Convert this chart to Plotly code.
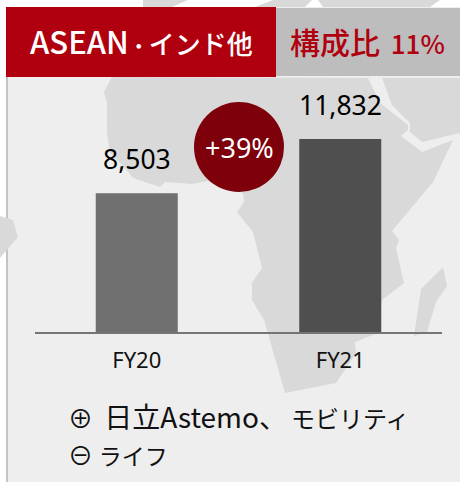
import plotly.graph_objects as go

W, H = 460, 482
L, R, T, B = 35, 442, 100, 332
categories = ["FY20", "FY21"]
values = [8503, 11832]
value_labels = ["8,503", "11,832"]
bar_colors = ["#707070", "#4f4f4f"]
growth = "+39%"
JP = "'Noto Sans CJK JP', 'Noto Sans', sans-serif"
UI = "'Noto Sans', 'Noto Sans CJK JP', sans-serif"
MAP = "#d9d9d9"


def sized(text, size):
    return f'<span style="font-size:{size}px">{text}</span>'


header_left = sized("ASEAN", 31) + sized("・", 20) + sized("インド他", 26)
header_right = sized("構成比", 30) + sized("\u00a0", 22) + sized("\u00a011%", 26)
segment_top = sized("⊕", 25) + sized("\u00a0\u00a0", 25) + sized("日立Astemo、", 28) + sized("\u00a0", 18) + sized("モビリティ", 24)
segment_bottom = sized("⊖", 25) + sized("\u00a0", 25) + sized("ライフ", 23)

africa = [(112,77),(104,92),(107,103),(107,133),(110,153),(127,170),(133,178),(160,187),(165,182),(192,184),(207,181),
          (243,193),(244,202),(237,212),(253,232),(262,268),(252,283),(252,300),(264,320),(285,393),(336,383),(356,353),
          (355,342),(378,333),(382,300),(404,283),(396,248),(399,240),(392,231),(433,182),(453,140),(422,152),(401,136),
          (408,130),(408,125),(380,103),(368,78)]
arabia = [(382,78),(392,105),(410,123),(410,132),(422,142),(460,133),(460,78)]
madagascar = [(443,267),(447,286),(436,302),(427,332),(414,336),(421,289)]
west = [(0,216),(13,220),(18,237),(0,258)]
top_pieces = [
    [(143,0),(188,0),(172,7),(143,7)],
    [(255,7),(273,0),(312,0),(305,7)],
    [(318,0),(440,0),(430,7),(323,7)],
]


def px(x):
    return (x - L) / (R - L)


def py(y):
    return (B - y) / (B - T)


def poly(points, color):
    d = "M" + "L".join(f"{px(x):.4f},{py(y):.4f}" for x, y in points) + "Z"
    return dict(type="path", xref="paper", yref="paper", path=d, fillcolor=color, line_width=0, layer="below")


def rect(x0, y0, x1, y1, color, layer="below"):
    return dict(type="rect", xref="paper", yref="paper", x0=px(x0), x1=px(x1), y0=py(y1), y1=py(y0),
                fillcolor=color, line_width=0, layer=layer)


def label(x, y, text, size, color, anchor="center", font=UI, weight=400):
    return dict(xref="paper", yref="paper", x=px(x), y=py(y), text=text, showarrow=False, xanchor=anchor,
                yanchor="middle", font=dict(size=size, color=color, family=font, weight=weight))


shapes = [
    rect(7, 7, 460, 482, "#eeeeee"),
    rect(6, 77, 8, 482, "#c4c4c4"),
    *[poly(p, MAP) for p in top_pieces],
    poly(africa, MAP),
    poly(arabia, MAP),
    poly(madagascar, MAP),
    poly(west, MAP),
    rect(6, 7, 276, 77, "#b0000f"),
    rect(276, 8, 460, 76, "#bdbdbd"),
    dict(type="circle", xref="paper", yref="paper", x0=px(194), x1=px(284), y0=py(192), y1=py(102),
         fillcolor="#7d000a", line_width=0, layer="above"),
]

annotations = [
    label(141, 41, header_left, 25, "#ffffff", font=JP, weight=500),
    label(367, 41, header_right, 25, "#b0000f", font=JP, weight=500),
    label(239, 147, growth, 27, "#ffffff"),
    label(66, 416, segment_top, 25, "#111111", "left", JP),
    label(66, 454, segment_bottom, 25, "#111111", "left", JP),
]
for cat, val, txt in zip(categories, values, value_labels):
    annotations.append(dict(x=cat, y=val, xref="x", yref="y", text=txt, showarrow=False, yanchor="middle",
                            yshift=34, font=dict(size=26.5, color="#000000", family=UI)))

fig = go.Figure(go.Bar(
    x=categories, y=values, width=0.403, marker=dict(color=bar_colors, line_width=0),
))
fig.update_layout(
    width=W, height=H, autosize=False,
    margin=dict(l=L, r=W - R, t=T, b=H - B, pad=0),
    paper_bgcolor="#ffffff", plot_bgcolor="rgba(0,0,0,0)",
    showlegend=False, shapes=shapes, annotations=annotations,
    xaxis=dict(showline=True, linecolor="#757575", linewidth=2, ticks="", showgrid=False, zeroline=False,
               tickfont=dict(size=22, color="#111111", family=UI), ticklabelstandoff=8),
    yaxis=dict(range=[0, (B - T) / 0.01631], visible=False),
)
fig.write_html("out.html", config=dict(displayModeBar=False),
               post_script="document.body.style.margin='0';document.documentElement.style.overflow='hidden';")
